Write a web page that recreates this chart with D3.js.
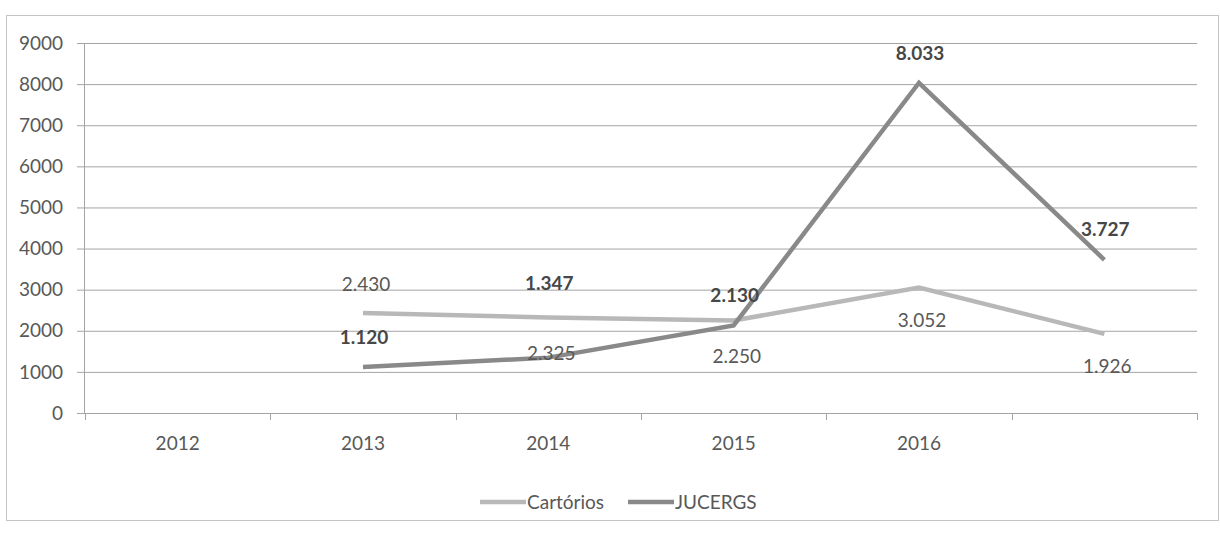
<!DOCTYPE html>
<html>
<head>
<meta charset="utf-8">
<script src="https://cdn.jsdelivr.net/npm/d3@7"></script>
<style>
  body { margin: 0; background: #fff; }
  svg { display: block; font-family: Lato, "Open Sans", sans-serif; }
</style>
</head>
<body>
<div id="viz"></div>
<script>
// categories: the last slot has no label in the original chart
const categories = ["2012", "2013", "2014", "2015", "2016", ""];
const cartorios = [null, 2430, 2325, 2250, 3052, 1926];
const jucergs = [null, 1120, 1347, 2130, 8033, 3727];
const yTicks = [0, 1000, 2000, 3000, 4000, 5000, 6000, 7000, 8000, 9000];
const seriesNames = ["Cartórios", "JUCERGS"];

const WIDTH = 1220, HEIGHT = 533;
const COLORS = { light: "#b8b8b8", dark: "#898989", grid: "#a4a4a4", text: "#585858", bold: "#474747" };
const FONT = "19px";

const svg = d3.select("#viz").append("svg")
  .attr("width", WIDTH)
  .attr("height", HEIGHT);

// outer chart frame
svg.append("rect")
  .attr("x", 6.5).attr("y", 15.5)
  .attr("width", 1212).attr("height", 505)
  .attr("fill", "#fff")
  .attr("stroke", "#c4c4c4");

const x = d3.scaleBand()
  .domain(d3.range(categories.length))
  .range([85, 1197]);
const cx = i => x(i) + x.bandwidth() / 2;

const y = d3.scaleLinear()
  .domain([0, 9000])
  .range([413, 43]);

// horizontal gridlines + small ticks left of axis
svg.append("g")
  .selectAll("line")
  .data(yTicks)
  .join("line")
  .attr("x1", 77)
  .attr("x2", 1197)
  .attr("y1", d => y(d) + 0.5)
  .attr("y2", d => y(d) + 0.5)
  .attr("stroke", COLORS.grid)
  .attr("stroke-width", 1);

// y axis line
svg.append("line")
  .attr("x1", 84.5).attr("x2", 84.5)
  .attr("y1", y(9000)).attr("y2", y(0))
  .attr("stroke", COLORS.grid);

svg.append("g")
  .selectAll("text")
  .data(yTicks)
  .join("text")
  .attr("x", 63)
  .attr("y", d => y(d))
  .attr("dy", "0.35em")
  .attr("text-anchor", "end")
  .style("font-size", FONT)
  .style("fill", COLORS.text)
  .text(d => d);

// x tick marks at band edges
const edges = d3.range(categories.length + 1).map(i => 85 + i * x.step());
svg.append("g")
  .selectAll("line")
  .data(edges)
  .join("line")
  .attr("x1", d => Math.round(d) + 0.5)
  .attr("x2", d => Math.round(d) + 0.5)
  .attr("y1", y(0))
  .attr("y2", y(0) + 7)
  .attr("stroke", COLORS.grid);

svg.append("g")
  .selectAll("text")
  .data(categories)
  .join("text")
  .attr("x", (d, i) => cx(i))
  .attr("y", 443)
  .attr("dy", "0.35em")
  .attr("text-anchor", "middle")
  .style("font-size", FONT)
  .style("fill", COLORS.text)
  .text(d => d);

const line = d3.line()
  .defined(d => d != null)
  .x((d, i) => cx(i))
  .y(d => y(d));

svg.append("path")
  .datum(cartorios)
  .attr("d", line)
  .attr("fill", "none")
  .attr("stroke", COLORS.light)
  .attr("stroke-width", 4.5);

svg.append("path")
  .datum(jucergs)
  .attr("d", line)
  .attr("fill", "none")
  .attr("stroke", COLORS.dark)
  .attr("stroke-width", 4.5);

// data labels (offsets follow the manual placement in the original)
const fmt = v => d3.format(",")(v).replace(/,/g, ".");
const cartDy = [0, -29, 36, 36, 33, 33];
const jucDy = [0, -30, -74, -30, -29, -30];

function labels(values, dys, weight, color, dx) {
  const pts = values.map((v, i) => ({ v, i })).filter(d => d.v != null);
  svg.append("g")
    .selectAll("text")
    .data(pts)
    .join("text")
    .attr("x", d => cx(d.i) + dx)
    .attr("y", d => y(d.v) + dys[d.i])
    .attr("dy", "0.35em")
    .attr("text-anchor", "middle")
    .style("font-size", FONT)
    .style("font-weight", weight)
    .style("fill", color)
    .text(d => fmt(d.v));
}
labels(cartorios, cartDy, "normal", COLORS.text, 3);
labels(jucergs, jucDy, "bold", COLORS.bold, 1);

// legend
const legend = svg.append("g").attr("transform", "translate(480,502)");
const legendItems = [
  { name: seriesNames[0], color: COLORS.light, x: 0 },
  { name: seriesNames[1], color: COLORS.dark, x: 148 }
];
const li = legend.selectAll("g")
  .data(legendItems)
  .join("g")
  .attr("transform", d => `translate(${d.x},0)`);
li.append("line")
  .attr("x1", 0).attr("x2", 46)
  .attr("stroke", d => d.color)
  .attr("stroke-width", 4.5);
li.append("text")
  .attr("x", 47)
  .attr("dy", "0.35em")
  .style("font-size", FONT)
  .style("fill", COLORS.text)
  .text(d => d.name);
</script>
</body>
</html>
